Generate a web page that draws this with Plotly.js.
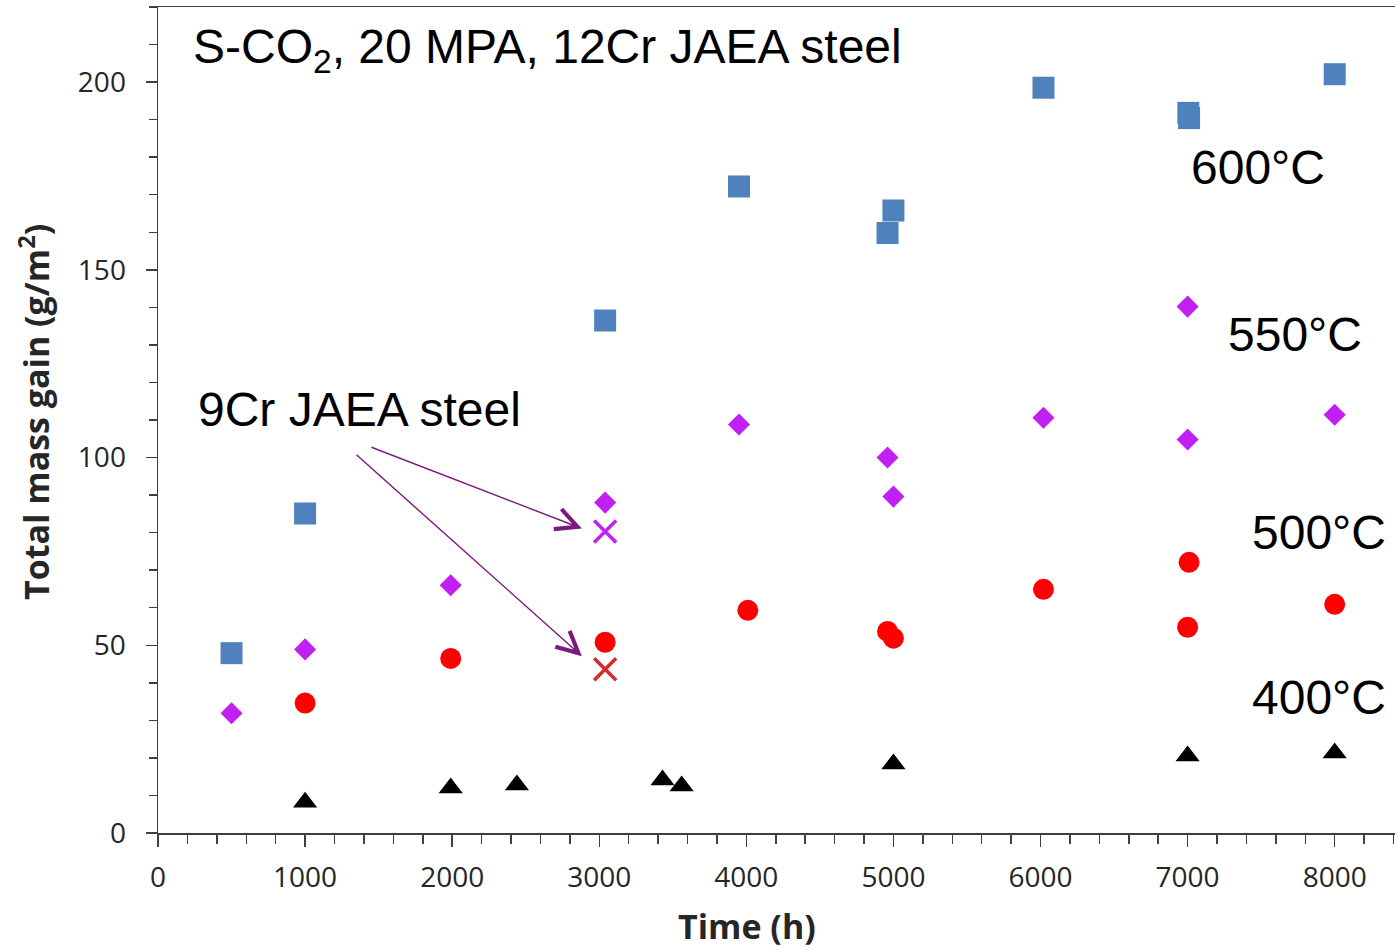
<!DOCTYPE html>
<html>
<head>
<meta charset="utf-8">
<script src="https://cdn.plot.ly/plotly-3.0.1.min.js"></script>
<style>html,body{margin:0;padding:0;background:#fff;}#chart{width:1395px;height:949px;}</style>
</head>
<body>
<div id="chart"></div>
<script>
// 12Cr JAEA steel, S-CO2 20 MPa: total mass gain (g/m2) vs time (h)
const t600 = [500, 1000, 3040, 3950, 4960, 5000, 6020, 7005, 7010, 8000];
const m600 = [47.9, 85.1, 136.5, 172.2, 159.8, 165.8, 198.5, 191.8, 190.4, 202.1];

const t550 = [500, 1000, 1990, 3040, 3950, 4960, 5000, 6020, 7000, 7000, 8000];
const m550 = [31.9, 48.9, 66.0, 88.0, 108.8, 100.0, 89.6, 110.6, 140.2, 104.8, 111.4];

const t500 = [1000, 1990, 3040, 4010, 4960, 5000, 6020, 7010, 7000, 8000];
const m500 = [34.6, 46.5, 50.8, 59.3, 53.7, 51.9, 64.9, 72.1, 54.8, 60.9];

const t400 = [1000, 1990, 2440, 3430, 3560, 5000, 7000, 8000];
const m400 = [8.2, 12.0, 12.8, 14.1, 12.5, 18.4, 20.5, 21.3];

// 9Cr JAEA steel
const t9Cr = [3040];
const m9Cr550 = [80.3];
const m9Cr500 = [43.6];

const seriesLabels = ['600°C', '550°C', '500°C', '400°C'];
const xTitle = 'Time (h)';
const yTitle = 'Total mass gain (g/m<sup>2</sup>)';

const traces = [
  {x: t600, y: m600, name: '600°C', mode: 'markers', type: 'scatter',
   marker: {symbol: 'square', size: 22, color: '#4F81BD', line: {width: 0}}},
  {x: t550, y: m550, name: '550°C', mode: 'markers', type: 'scatter',
   marker: {symbol: 'diamond', size: 17, color: '#C21FF2', line: {width: 0}}},
  {x: t500, y: m500, name: '500°C', mode: 'markers', type: 'scatter',
   marker: {symbol: 'circle', size: 21, color: '#FF0000', line: {width: 0}}},
  {x: t400, y: m400, name: '400°C', mode: 'markers', type: 'scatter',
   marker: {symbol: 'triangle-up', size: 21, color: '#000000', line: {width: 0}}},
  {x: t9Cr, y: m9Cr550, name: '9Cr 550°C', mode: 'markers', type: 'scatter',
   marker: {symbol: 'x-thin', size: 22, color: '#C21FF2', line: {width: 3.5, color: '#C21FF2'}}},
  {x: t9Cr, y: m9Cr500, name: '9Cr 500°C', mode: 'markers', type: 'scatter',
   marker: {symbol: 'x-thin', size: 22, color: '#D42A2A', line: {width: 3.5, color: '#D42A2A'}}}
];

const big = {family: 'Liberation Sans, Arial, sans-serif', size: 48, color: '#000'};
const titleFont = {family: 'Open Sans, sans-serif', size: 34, color: '#262626'};
const arrowColor = '#7A1A7E';

const layout = {
  width: 1395, height: 949,
  margin: {l: 158, r: 0, t: 7, b: 116, pad: 0},
  paper_bgcolor: '#fff', plot_bgcolor: '#fff',
  showlegend: false,
  xaxis: {
    range: [0, 8410], dtick: 1000, tick0: 0,
    showgrid: false, zeroline: false,
    showline: true, linecolor: '#404040', linewidth: 1.5, mirror: true,
    ticks: 'outside', ticklen: 12, tickwidth: 1.5, tickcolor: '#404040',
    minor: {dtick: 200, ticks: 'outside', ticklen: 9, tickwidth: 1.5, tickcolor: '#404040', showgrid: false},
    tickfont: {family: 'Open Sans, sans-serif', size: 28, color: '#262626'},
    ticklabelstandoff: 7,
    fixedrange: true
  },
  yaxis: {
    range: [0, 220], dtick: 50, tick0: 0,
    showgrid: false, zeroline: false,
    showline: true, linecolor: '#404040', linewidth: 1.5,
    ticks: 'outside', ticklen: 11, tickwidth: 1.5, tickcolor: '#404040',
    minor: {dtick: 10, ticks: 'outside', ticklen: 8, tickwidth: 1.5, tickcolor: '#404040', showgrid: false},
    tickfont: {family: 'Open Sans, sans-serif', size: 28, color: '#262626'},
    ticklabelstandoff: 14,
    fixedrange: true
  },
  annotations: [
    {xref: 'paper', yref: 'paper', x: (747 - 158) / 1237, y: (833 - 926) / 826, xanchor: 'center', yanchor: 'middle',
     text: '<b>' + xTitle + '</b>', showarrow: false, font: titleFont, borderpad: 0},
    {xref: 'paper', yref: 'paper', x: (34 - 158) / 1237, y: (833 - 412) / 826, xanchor: 'center', yanchor: 'middle',
     textangle: -90, text: '<b>' + yTitle + '</b>', showarrow: false, font: titleFont},
    {xref: 'paper', yref: 'paper', x: 0.027, y: 0.9480, xanchor: 'left', yanchor: 'middle',
     text: 'S-CO<sub>2</sub>, 20 MPA, 12Cr JAEA steel', showarrow: false, font: big},
    {xref: 'paper', yref: 'paper', x: 0.031, y: 0.5133, xanchor: 'left', yanchor: 'middle',
     text: '9Cr JAEA steel', showarrow: false, font: big},
    {xref: 'paper', yref: 'paper', x: 0.8335, y: 0.8051, xanchor: 'left', yanchor: 'middle',
     text: seriesLabels[0], showarrow: false, font: big},
    {xref: 'paper', yref: 'paper', x: 0.8634, y: 0.6041, xanchor: 'left', yanchor: 'middle',
     text: seriesLabels[1], showarrow: false, font: big},
    {xref: 'paper', yref: 'paper', x: 0.8826, y: 0.3644, xanchor: 'left', yanchor: 'middle',
     text: seriesLabels[2], showarrow: false, font: big},
    {xref: 'paper', yref: 'paper', x: 0.8826, y: 0.1646, xanchor: 'left', yanchor: 'middle',
     text: seriesLabels[3], showarrow: false, font: big},
    {xref: 'x', yref: 'y', x: 2882, y: 81.1, axref: 'x', ayref: 'y', ax: 1441, ay: 102.9,
     text: '', showarrow: true, arrowhead: 5, arrowsize: 3, arrowwidth: 1.4, arrowcolor: arrowColor},
    {xref: 'x', yref: 'y', x: 2882, y: 47.1, axref: 'x', ayref: 'y', ax: 1339, ay: 101.1,
     text: '', showarrow: true, arrowhead: 5, arrowsize: 3, arrowwidth: 1.4, arrowcolor: arrowColor}
  ]
};

Plotly.newPlot('chart', traces, layout, {displayModeBar: false, staticPlot: true});
</script>
</body>
</html>
